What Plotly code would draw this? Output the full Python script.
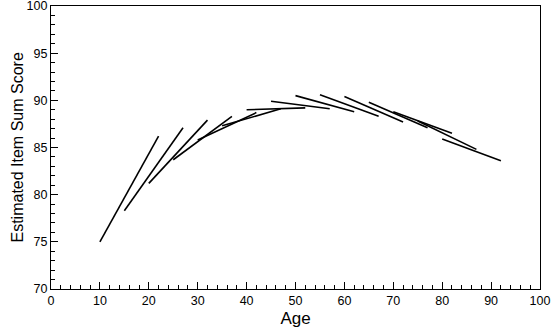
import plotly.graph_objects as go

# Cohort segments (accelerated longitudinal design): start age, end age, start score, end score
start_age = [10, 15, 20, 25, 30, 35, 40, 45, 50, 55, 60, 65, 70, 75, 80]
end_age = [22, 27, 32, 37, 42, 47, 52, 57, 62, 67, 72, 77, 82, 87, 92]
start_score = [75.0, 78.3, 81.2, 83.7, 85.8, 87.3, 89.0, 89.9, 90.5, 90.6, 90.4, 89.8, 88.8, 87.8, 85.9]
end_score = [86.2, 87.1, 87.9, 88.3, 88.7, 89.1, 89.2, 89.1, 88.8, 88.3, 87.7, 87.1, 86.5, 84.8, 83.6]

x_ticks = list(range(0, 101, 10))
y_ticks = list(range(70, 101, 5))

fig = go.Figure()
for sa, ea, ss, es in zip(start_age, end_age, start_score, end_score):
    fig.add_trace(go.Scatter(
        x=[sa, ea], y=[ss, es], mode="lines",
        line=dict(color="black", width=1.6),
        showlegend=False, hoverinfo="skip"))

axis_common = dict(
    showgrid=False, zeroline=False, showline=True, linecolor="black", linewidth=1.2,
    mirror=True, ticks="inside", ticklen=7, tickcolor="black", tickwidth=1,
    automargin=False, ticklabeloverflow="allow",
    tickfont=dict(family="Liberation Sans, Arial, sans-serif", size=12.5, color="black"),
)

fig.update_layout(
    width=553, height=334,
    margin=dict(l=51, r=13, t=6, b=45),
    paper_bgcolor="white", plot_bgcolor="white",
    font=dict(family="Liberation Sans, Arial, sans-serif", color="black"),
    xaxis=dict(range=[0, 100], tickvals=x_ticks,
               minor=dict(dtick=2, ticks="inside", ticklen=4, tickcolor="black"),
               title=dict(text="Age", font=dict(size=17), standoff=5),
               **axis_common),
    yaxis=dict(range=[70, 100], tickvals=y_ticks,
               minor=dict(dtick=1, ticks="inside", ticklen=4, tickcolor="black"),
               **axis_common),
    annotations=[dict(text="Estimated Item Sum Score", textangle=-90,
                      xref="paper", yref="paper", x=-0.0695, y=0.5,
                      xanchor="center", yanchor="middle", showarrow=False,
                      font=dict(size=16, color="black"))],
)

fig.write_html("out.html", config={"displayModeBar": False},
               post_script="document.body.style.margin='0';document.body.style.padding='0';")
